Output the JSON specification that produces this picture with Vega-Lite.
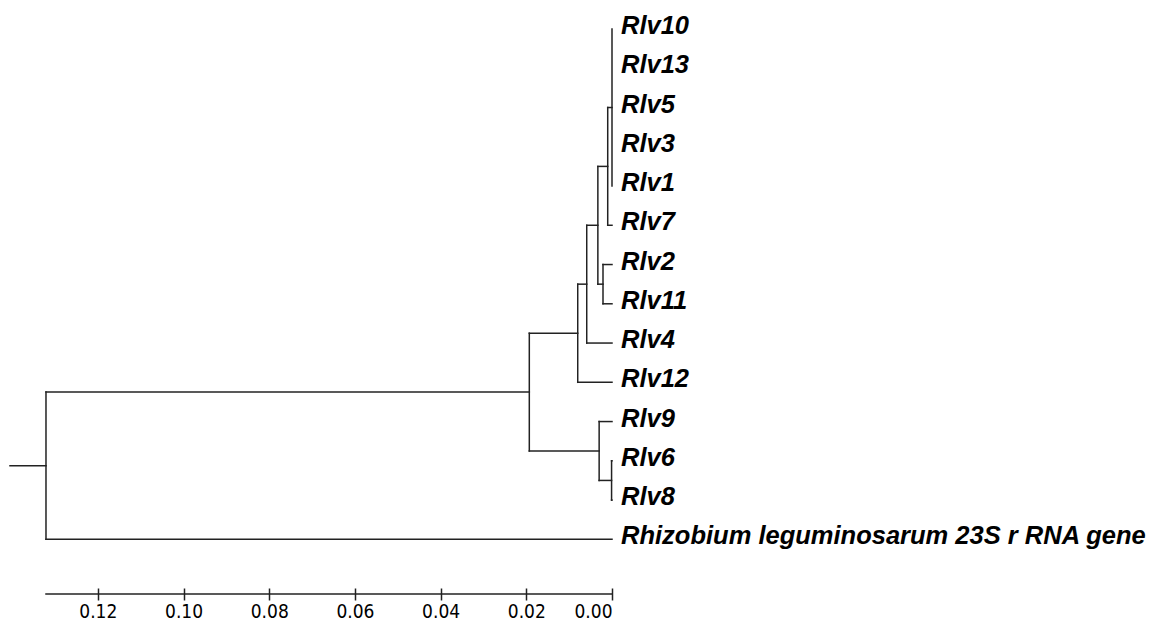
{
  "$schema": "https://vega.github.io/schema/vega-lite/v6.json",
  "autosize": "none",
  "padding": {"left": 10, "top": 29, "right": 541, "bottom": 32},
  "width": 602,
  "height": 559,
  "background": "white",
  "config": {"view": {"stroke": null}},
  "datasets": {
    "segments": [
      {"x": 0, "x2": 0.001, "y": 2, "y2": 2},
      {"x": 0, "x2": 0.001, "y": 5, "y2": 5},
      {"x": 0.001, "x2": 0.0033, "y": 3.5, "y2": 3.5},
      {"x": 0, "x2": 0.0021, "y": 6, "y2": 6},
      {"x": 0, "x2": 0.0021, "y": 7, "y2": 7},
      {"x": 0.0021, "x2": 0.0033, "y": 6.5, "y2": 6.5},
      {"x": 0.0033, "x2": 0.0059, "y": 5, "y2": 5},
      {"x": 0, "x2": 0.0059, "y": 8, "y2": 8},
      {"x": 0.0059, "x2": 0.008, "y": 6.5, "y2": 6.5},
      {"x": 0, "x2": 0.008, "y": 9, "y2": 9},
      {"x": 0.008, "x2": 0.0193, "y": 7.75, "y2": 7.75},
      {"x": 0, "x2": 0.003, "y": 10, "y2": 10},
      {"x": 0, "x2": 0.0001, "y": 11, "y2": 11},
      {"x": 0, "x2": 0.0001, "y": 12, "y2": 12},
      {"x": 0.0001, "x2": 0.003, "y": 11.5, "y2": 11.5},
      {"x": 0.003, "x2": 0.0193, "y": 10.75, "y2": 10.75},
      {"x": 0.0193, "x2": 0.1321, "y": 9.25, "y2": 9.25},
      {"x": 0, "x2": 0.1321, "y": 13, "y2": 13},
      {"x": 0.1321, "x2": 0.1405, "y": 11.125, "y2": 11.125},
      {"x": 0, "x2": 0, "y": 0, "y2": 4},
      {"x": 0.001, "x2": 0.001, "y": 2, "y2": 5},
      {"x": 0.0033, "x2": 0.0033, "y": 3.5, "y2": 6.5},
      {"x": 0.0021, "x2": 0.0021, "y": 6, "y2": 7},
      {"x": 0.0059, "x2": 0.0059, "y": 5, "y2": 8},
      {"x": 0.008, "x2": 0.008, "y": 6.5, "y2": 9},
      {"x": 0.0193, "x2": 0.0193, "y": 7.75, "y2": 10.75},
      {"x": 0.003, "x2": 0.003, "y": 10, "y2": 11.5},
      {"x": 0.0001, "x2": 0.0001, "y": 11, "y2": 12},
      {"x": 0.1321, "x2": 0.1321, "y": 9.25, "y2": 13},
      {"x": 0.1321, "x2": 0, "y": 14.395, "y2": 14.395}
    ],
    "leaves": [
      {"x": 0, "y": 0, "label": "Rlv10"},
      {"x": 0, "y": 1, "label": "Rlv13"},
      {"x": 0, "y": 2, "label": "Rlv5"},
      {"x": 0, "y": 3, "label": "Rlv3"},
      {"x": 0, "y": 4, "label": "Rlv1"},
      {"x": 0, "y": 5, "label": "Rlv7"},
      {"x": 0, "y": 6, "label": "Rlv2"},
      {"x": 0, "y": 7, "label": "Rlv11"},
      {"x": 0, "y": 8, "label": "Rlv4"},
      {"x": 0, "y": 9, "label": "Rlv12"},
      {"x": 0, "y": 10, "label": "Rlv9"},
      {"x": 0, "y": 11, "label": "Rlv6"},
      {"x": 0, "y": 12, "label": "Rlv8"},
      {"x": 0, "y": 13, "label": "Rhizobium leguminosarum 23S r RNA gene"}
    ]
  },
  "encoding": {
    "x": {
      "field": "x",
      "type": "quantitative",
      "scale": {"domain": [0.1405, 0], "nice": false, "zero": false},
      "axis": {
        "orient": "bottom",
        "values": [0, 0.02, 0.04, 0.06, 0.08, 0.1, 0.12],
        "format": ".2f",
        "domain": false,
        "grid": false,
        "title": null,
        "tickSize": 12,
        "tickWidth": 1.5,
        "tickColor": "#222222",
        "labelPadding": 2,
        "labelFont": "Liberation Sans Narrow, DejaVu Sans Condensed, sans-serif",
        "labelFontSize": 19,
        "labelColor": "#000000"
      }
    },
    "y": {
      "field": "y",
      "type": "quantitative",
      "scale": {"domain": [14.24, 0], "nice": false, "zero": false},
      "axis": null
    }
  },
  "layer": [
    {
      "data": {"name": "segments"},
      "mark": {"type": "rule", "color": "#222222", "strokeWidth": 1.5, "strokeCap": "square"},
      "encoding": {
        "x2": {"field": "x2"},
        "y2": {"field": "y2"}
      }
    },
    {
      "data": {"name": "leaves"},
      "mark": {
        "type": "text",
        "align": "left",
        "baseline": "alphabetic",
        "dx": 9,
        "dy": 5,
        "font": "Liberation Sans, Arial, sans-serif",
        "fontSize": 25.5,
        "fontWeight": "bold",
        "fontStyle": "italic",
        "color": "#000000"
      },
      "encoding": {
        "text": {"field": "label"}
      }
    }
  ]
}
